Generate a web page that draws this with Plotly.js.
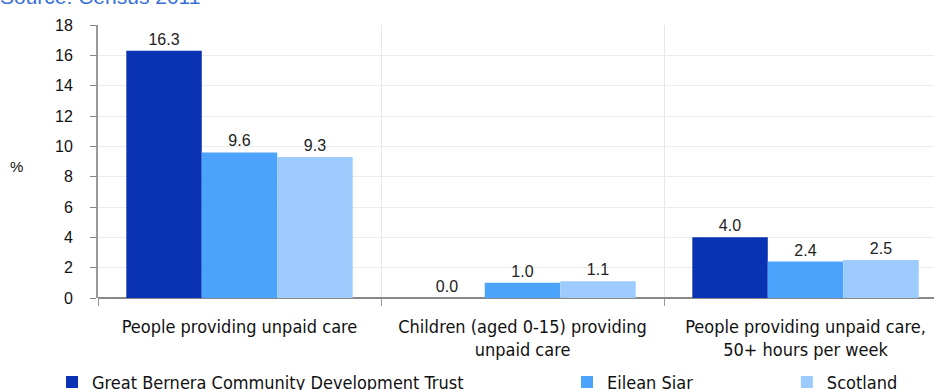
<!DOCTYPE html>
<html>
<head>
<meta charset="utf-8">
<script src="https://cdn.plot.ly/plotly-3.0.1.min.js"></script>
<style>html,body{margin:0;padding:0;overflow:hidden;background:#fff;}</style>
</head>
<body>
<div id="chart" style="width:934px;height:390px;"></div>
<script>
const categories = ["People providing unpaid care", "Children (aged 0-15) providing<br>unpaid care", "People providing unpaid care,<br>50+ hours per week"];
const seriesNames = ["Great Bernera Community Development Trust", "Eilean Siar", "Scotland"];
const gbcdt = [16.3, 0.0, 4.0];
const eileanSiar = [9.6, 1.0, 2.4];
const scotland = [9.3, 1.1, 2.5];
const colors = ["#0a32b4", "#4ba3fb", "#9dcbfd"];
const yTicks = [0, 2, 4, 6, 8, 10, 12, 14, 16, 18];

const narrow = "'DejaVu Sans Condensed', 'Liberation Sans Narrow', 'Arial Narrow', sans-serif";
const sans = "'Liberation Sans', Arial, sans-serif";
const legendNames = ['legend', 'legend2', 'legend3'];
const legendX = [-0.055, 0.561, 0.824];

const traces = [gbcdt, eileanSiar, scotland].map((vals, i) => ({
  type: 'bar',
  name: seriesNames[i],
  legend: legendNames[i],
  x: categories,
  y: vals,
  marker: {color: colors[i], line: {width: 0}},
  texttemplate: '%{y:.1f}',
  textposition: 'outside',
  cliponaxis: false,
  textfont: {family: sans, size: 16, color: '#222'},
  hoverinfo: 'none'
}));

const legendBase = {
  orientation: 'h', xanchor: 'left', yref: 'container', y: 0.02, yanchor: 'middle',
  font: {family: narrow, size: 18, color: '#111'},
  itemwidth: 30, bgcolor: 'rgba(0,0,0,0)'
};

const layout = {
  width: 934, height: 390,
  margin: {l: 98, r: 0, t: 25, b: 92},
  barmode: 'group',
  bargap: 0.2,
  bargroupgap: 0,
  paper_bgcolor: '#fff',
  plot_bgcolor: '#fff',
  showlegend: true,
  legend: Object.assign({}, legendBase, {x: legendX[0]}),
  legend2: Object.assign({}, legendBase, {x: legendX[1]}),
  legend3: Object.assign({}, legendBase, {x: legendX[2]}),
  xaxis: {
    type: 'category',
    range: [-0.5, 2.454],
    tickson: 'boundaries',
    ticks: 'outside', ticklen: 7, tickcolor: '#999',
    ticklabelstandoff: 16,
    showgrid: true, gridcolor: '#e6e6e6', gridwidth: 1,
    showline: false,
    tickfont: {family: narrow, size: 18, color: '#111'},
    automargin: false
  },
  yaxis: {
    range: [0, 18],
    tickvals: yTicks,
    ticktext: yTicks.map(String),
    ticks: 'outside', ticklen: 6, tickcolor: '#888',
    ticklabelstandoff: 14,
    showline: true, linecolor: '#999', linewidth: 2,
    showgrid: true, gridcolor: '#ececec',
    zeroline: true, zerolinecolor: '#888', zerolinewidth: 2,
    tickfont: {family: sans, size: 16, color: '#111'},
    automargin: false
  },
  annotations: [
    {text: '%', xref: 'paper', yref: 'paper', x: -0.097, y: 0.48, xanchor: 'center', yanchor: 'middle',
     showarrow: false, font: {family: sans, size: 15, color: '#111'}},
    {text: 'Source: Census 2011', xref: 'paper', yref: 'paper', x: -0.1196, y: 1.056, xanchor: 'left', yanchor: 'bottom',
     showarrow: false, font: {family: sans, size: 21, color: '#3a6fd8'}}
  ]
};

Plotly.newPlot('chart', traces, layout, {displayModeBar: false, staticPlot: true});
</script>
</body>
</html>
